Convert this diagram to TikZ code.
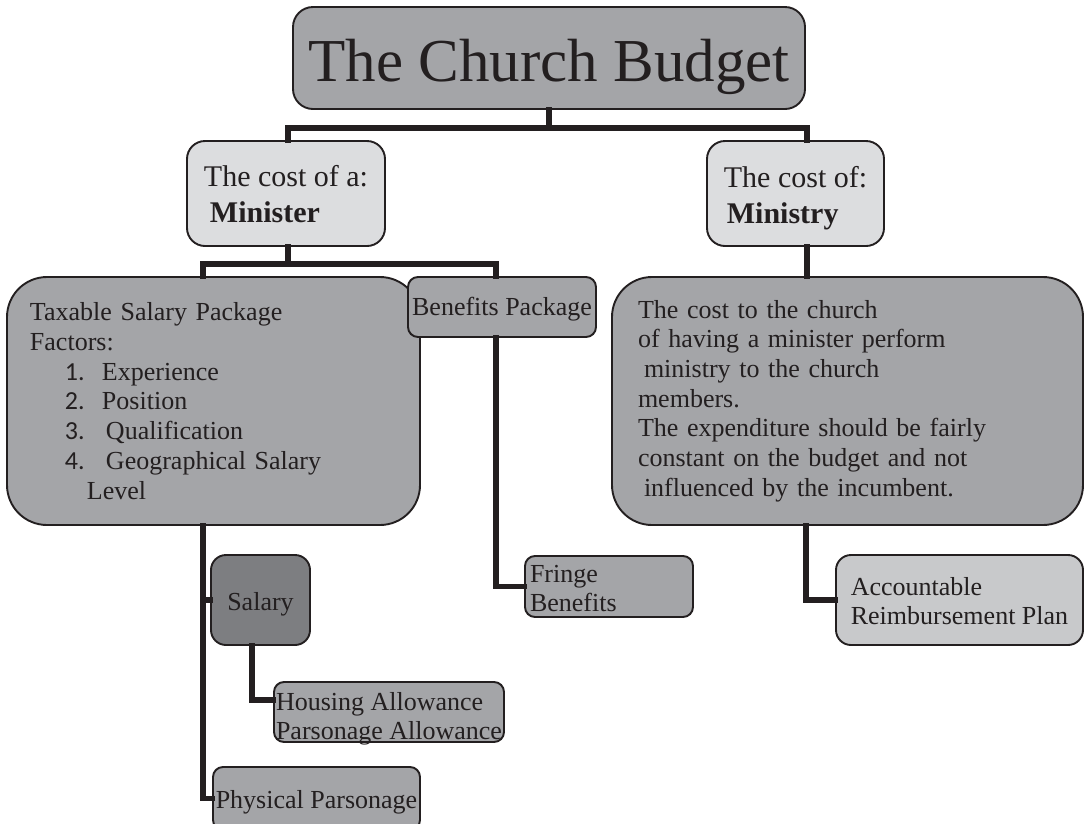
\documentclass[tikz,border=0pt]{standalone}
\usepackage{fontspec}
\setmainfont{Liberation Serif}
\newfontfamily\numfont{Carlito}
\definecolor{ink}{HTML}{231F20}
\definecolor{midgray}{HTML}{A4A5A8}
\definecolor{lightgray}{HTML}{DCDDDF}
\definecolor{palegray}{HTML}{C8C9CB}
\definecolor{darkgray}{HTML}{7D7E81}
\newcommand{\itm}[3]{\hspace*{35pt}\makebox[#1][l]{\numfont #2}#3}
% place text with first baseline r below/above node centre
\newcommand{\tx}[2]{\raisebox{#1}[0pt][0pt]{\begin{tabular}[t]{@{}l@{}}#2\end{tabular}}}
\begin{document}
\begin{tikzpicture}[x=1pt,y=-1pt,
  box/.style={draw=ink, line width=1.9pt, fill=midgray, text=ink, inner sep=0pt, align=left},
  conn/.style={draw=ink, line width=5.2pt, line cap=rect},
  body/.style={font=\fontsize{26}{29.7}\selectfont},
  head/.style={font=\fontsize{30}{36.5}\selectfont}]
\useasboundingbox (0,0) rectangle (1085,823);

% boxes
\node[box, rounded corners=20pt, minimum width=512pt, minimum height=102pt,
      font=\fontsize{61}{66}\selectfont] (title) at (549,58) {\tx{-23pt}{The Church Budget}};

\node[box, head, fill=lightgray, rounded corners=18pt, minimum width=198pt, minimum height=105pt]
  (minister) at (286,193.5) {\tx{7.5pt}{The cost of a:\\\hspace*{6pt}\textbf{Minister}}};

\node[box, head, fill=lightgray, rounded corners=18pt, minimum width=177pt, minimum height=105pt]
  (ministry) at (795.5,193.5) {\tx{6.5pt}{The cost of:\\\hspace*{3pt}\textbf{Ministry}}};

\node[box, body, rounded corners=40pt, minimum width=413pt, minimum height=248pt, text width=367pt]
  (taxable) at (213.5,401) {Taxable Salary Package\\
  Factors:\\
  \itm{37pt}{1.}{Experience}\\
  \itm{37pt}{2.}{Position}\\
  \itm{41pt}{3.}{Qualification}\\
  \itm{41pt}{4.}{Geographical Salary}\\
  \hspace*{57pt}Level};

\node[box, body, rounded corners=10pt, minimum width=188pt, minimum height=60pt]
  (benefits) at (502,307) {\tx{-8pt}{Benefits Package}};

\node[box, body, rounded corners=40pt, minimum width=471pt, minimum height=248pt, text width=419pt]
  (cost) at (847.5,401) {The cost to the church\\
  of having a minister perform\\
  \hspace*{6pt}ministry to the church\\
  members.\\
  The expenditure should be fairly\\
  constant on the budget and not\\
  \hspace*{6pt}influenced by the incumbent.};

\node[box, body, fill=darkgray, rounded corners=15pt, minimum width=99pt, minimum height=90pt]
  (salary) at (260.5,600) {\tx{-10pt}{Salary}};

\node[box, body, rounded corners=10pt, minimum width=168pt, minimum height=61pt, text width=158pt]
  (fringe) at (609,586.5) {\tx{4.5pt}{Fringe\\Benefits}};

\node[box, body, rounded corners=10pt, minimum width=230pt, minimum height=60pt]
  (housing) at (389,712) {\tx{2pt}{Housing Allowance\\Parsonage Allowance}};

\node[box, body, rounded corners=10pt, minimum width=207pt, minimum height=63pt]
  (physical) at (316.5,798.5) {\tx{-9.5pt}{Physical Parsonage}};

\node[box, body, fill=palegray, rounded corners=15pt, minimum width=247pt, minimum height=90pt]
  (account) at (959.5,600) {\tx{5pt}{Accountable\\Reimbursement Plan}};

% connectors
\draw[conn] (title.south) -- ++(0,18) coordinate (t1);
\draw[conn] ([xshift=2pt]minister.north) |- (t1) -| ([xshift=11.5pt]ministry.north);
\draw[conn] ([xshift=2pt]minister.south) -- ++(0,17) coordinate (m1);
\draw[conn] ([xshift=-10.5pt]taxable.north) |- (m1) -| ([xshift=-6pt]benefits.north);
\draw[conn] ([xshift=-6pt]benefits.south) |- (fringe.west);
\draw[conn] ([xshift=-10.5pt]taxable.south) |- (physical.west);
\draw[conn] ([xshift=-10.5pt]taxable.south) |- (salary.west);
\draw[conn] ([xshift=-8.5pt]salary.south) |- ([yshift=12pt]housing.west);
\draw[conn] ([xshift=11.5pt]ministry.south) -- ([xshift=11.5pt]ministry.south |- cost.north);
\draw[conn] ([xshift=-41.5pt]cost.south) |- (account.west);
\end{tikzpicture}
\end{document}
